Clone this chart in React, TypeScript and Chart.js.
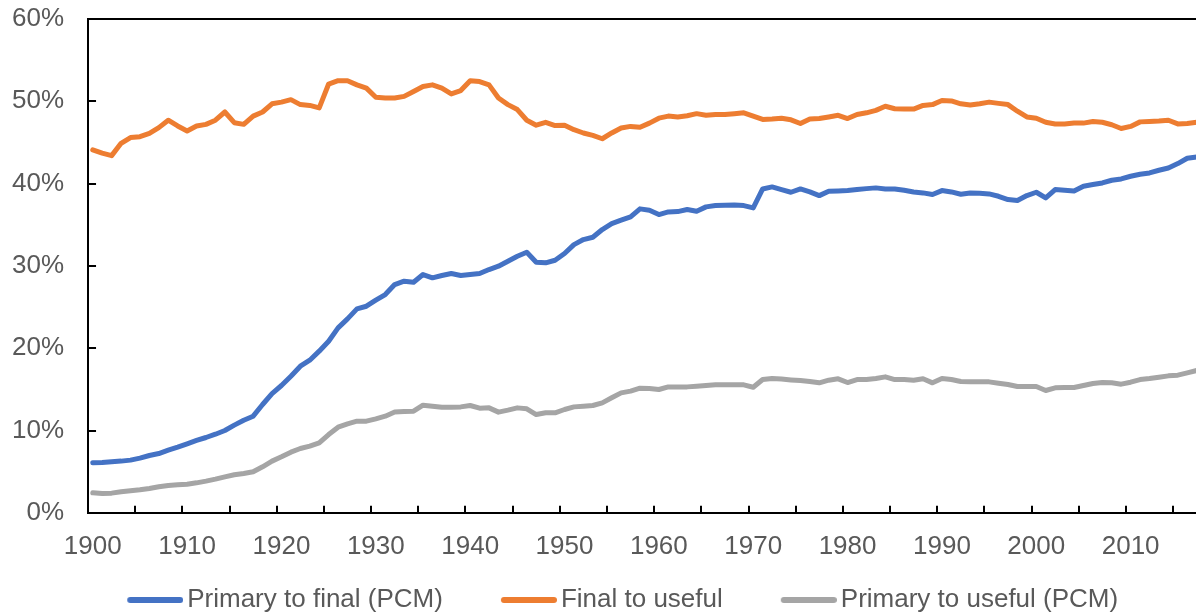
import { useEffect, useRef } from 'react';
import { Chart, registerables } from 'chart.js';

Chart.register(...registerables);

const years = [
  1900, 1901, 1902, 1903, 1904, 1905, 1906, 1907, 1908, 1909,
  1910, 1911, 1912, 1913, 1914, 1915, 1916, 1917, 1918, 1919,
  1920, 1921, 1922, 1923, 1924, 1925, 1926, 1927, 1928, 1929,
  1930, 1931, 1932, 1933, 1934, 1935, 1936, 1937, 1938, 1939,
  1940, 1941, 1942, 1943, 1944, 1945, 1946, 1947, 1948, 1949,
  1950, 1951, 1952, 1953, 1954, 1955, 1956, 1957, 1958, 1959,
  1960, 1961, 1962, 1963, 1964, 1965, 1966, 1967, 1968, 1969,
  1970, 1971, 1972, 1973, 1974, 1975, 1976, 1977, 1978, 1979,
  1980, 1981, 1982, 1983, 1984, 1985, 1986, 1987, 1988, 1989,
  1990, 1991, 1992, 1993, 1994, 1995, 1996, 1997, 1998, 1999,
  2000, 2001, 2002, 2003, 2004, 2005, 2006, 2007, 2008, 2009,
  2010, 2011, 2012, 2013, 2014, 2015, 2016, 2017,
];

const primaryToFinal = [
  6.07, 6.1, 6.2, 6.28, 6.4, 6.64, 6.96, 7.2, 7.61, 7.98,
  8.38, 8.79, 9.15, 9.55, 10.0, 10.65, 11.25, 11.74, 13.16, 14.49,
  15.47, 16.6, 17.81, 18.54, 19.64, 20.85, 22.47, 23.56, 24.78, 25.1,
  25.83, 26.52, 27.73, 28.14, 28.02, 28.95, 28.55, 28.83, 29.07, 28.83,
  28.95, 29.07, 29.56, 29.96, 30.57, 31.17, 31.66, 30.45, 30.37, 30.69,
  31.5, 32.59, 33.2, 33.48, 34.42, 35.14, 35.55, 35.95, 36.93, 36.76,
  36.24, 36.56, 36.6, 36.85, 36.64, 37.17, 37.33, 37.37, 37.41, 37.33,
  37.05, 39.35, 39.6, 39.27, 38.95, 39.35, 38.99, 38.54, 39.07, 39.11,
  39.15, 39.27, 39.39, 39.48, 39.35, 39.35, 39.19, 38.99, 38.87, 38.67,
  39.15, 38.99, 38.71, 38.87, 38.83, 38.75, 38.46, 38.06, 37.94, 38.55,
  38.95, 38.26, 39.27, 39.19, 39.11, 39.68, 39.88, 40.08, 40.41, 40.57,
  40.89, 41.14, 41.3, 41.62, 41.9, 42.43, 43.08, 43.24,
];

const finalToUseful = [
  44.1, 43.7, 43.4, 44.9, 45.6, 45.7, 46.1, 46.8, 47.7, 47.0,
  46.4, 47.0, 47.2, 47.7, 48.7, 47.4, 47.2, 48.2, 48.7, 49.7,
  49.9, 50.2, 49.6, 49.5, 49.2, 52.1, 52.5, 52.5, 52.0, 51.6,
  50.5, 50.4, 50.4, 50.6, 51.2, 51.8, 52.0, 51.6, 50.9, 51.3,
  52.5, 52.4, 52.0, 50.4, 49.6, 49.0, 47.7, 47.1, 47.45, 47.05,
  47.1, 46.55, 46.15, 45.85, 45.45, 46.15, 46.75, 46.95, 46.85, 47.35,
  47.95, 48.2, 48.1, 48.25, 48.5, 48.3, 48.4, 48.4, 48.5, 48.6,
  48.2, 47.8, 47.85, 47.95, 47.75, 47.3, 47.85, 47.9, 48.1, 48.3,
  47.9, 48.4, 48.6, 48.9, 49.4, 49.1, 49.05, 49.05, 49.5, 49.6,
  50.1, 50.05, 49.7, 49.55, 49.7, 49.9, 49.75, 49.6, 48.8, 48.1,
  47.95, 47.45, 47.25, 47.25, 47.35, 47.35, 47.55, 47.45, 47.15, 46.7,
  46.95, 47.5, 47.55, 47.6, 47.7, 47.25, 47.3, 47.45,
];

const primaryToUseful = [
  2.43, 2.35, 2.39, 2.55, 2.67, 2.79, 2.96, 3.16, 3.32, 3.4,
  3.48, 3.64, 3.85, 4.09, 4.37, 4.62, 4.78, 4.98, 5.59, 6.28,
  6.8, 7.37, 7.81, 8.1, 8.5, 9.51, 10.4, 10.81, 11.13, 11.13,
  11.42, 11.74, 12.25, 12.31, 12.35, 13.08, 12.96, 12.83, 12.83, 12.87,
  13.04, 12.71, 12.75, 12.23, 12.47, 12.75, 12.63, 11.94, 12.15, 12.15,
  12.55, 12.87, 12.96, 13.04, 13.36, 13.97, 14.57, 14.78, 15.14, 15.1,
  14.98, 15.3, 15.3, 15.3, 15.38, 15.47, 15.55, 15.55, 15.55, 15.55,
  15.26, 16.19, 16.32, 16.25, 16.15, 16.07, 15.95, 15.79, 16.11, 16.28,
  15.83, 16.19, 16.19, 16.32, 16.52, 16.19, 16.19, 16.11, 16.28, 15.79,
  16.32, 16.19, 15.95, 15.91, 15.91, 15.91, 15.75, 15.59, 15.34, 15.34,
  15.34, 14.86, 15.18, 15.22, 15.22, 15.47, 15.71, 15.83, 15.79, 15.63,
  15.87, 16.19, 16.32, 16.48, 16.64, 16.72, 17.0, 17.29,
];

const seriesNames = ['Primary to final (PCM)', 'Final to useful', 'Primary to useful (PCM)'];
const seriesValues = [primaryToFinal, finalToUseful, primaryToUseful];
const seriesColors = ['#4472C4', '#ED7D31', '#A5A5A5'];

const FONT = "'Liberation Sans', Arial, Helvetica, sans-serif";
const TEXT_COLOR = '#595959';
const CANVAS_W = 1210;
const CANVAS_H = 614;
const LEGEND_DX = -1;
const LEGEND_DY = 7;
const LEGEND_SYMBOL_SLOT = 105;

function legendLineImage(color: string) {
  const c = document.createElement('canvas');
  const w = LEGEND_SYMBOL_SLOT + 18;
  c.width = w;
  c.height = 8;
  const g = c.getContext('2d')!;
  g.strokeStyle = color;
  g.lineWidth = 6;
  g.lineCap = 'round';
  g.beginPath();
  g.moveTo(w - 56 + 3, 4);
  g.lineTo(w - 3, 4);
  g.stroke();
  return c;
}

const framePlugin = {
  id: 'frame',
  beforeDatasetsDraw(chart: any) {
    const { ctx, chartArea: a, scales } = chart;
    const x = scales.x;
    const y = scales.y;
    ctx.save();
    ctx.strokeStyle = '#000';
    ctx.lineWidth = 2;
    ctx.beginPath();
    ctx.moveTo(a.left - 1, a.top);
    ctx.lineTo(a.right, a.top);
    for (let v = x.min; v <= x.max + 1e-6; v += 5) {
      const px = Math.round(x.getPixelForValue(v));
      ctx.moveTo(px, a.bottom);
      ctx.lineTo(px, a.bottom - 7);
    }
    for (const t of y.ticks) {
      const py = Math.round(y.getPixelForValue(t.value));
      ctx.moveTo(a.left, py);
      ctx.lineTo(a.left + 8, py);
    }
    ctx.stroke();
    ctx.restore();
  },
};

const legendShiftPlugin = {
  id: 'legendShift',
  afterLayout(chart: any) {
    const l = chart.legend;
    if (!l) return;
    l.left += LEGEND_DX;
    l.right += LEGEND_DX;
    l.top += LEGEND_DY;
    l.bottom += LEGEND_DY;
  },
};

export default function App() {
  const ref = useRef<HTMLCanvasElement | null>(null);

  useEffect(() => {
    document.body.style.margin = '0';
    const canvas = ref.current;
    if (!canvas) return;
    const images = seriesColors.map((c) => legendLineImage(c));
    const chart = new Chart(canvas, {
      type: 'line',
      data: {
        datasets: seriesNames.map((name, i) => ({
          label: name,
          data: years.map((yr, j) => ({ x: yr, y: seriesValues[i][j] })),
          borderColor: seriesColors[i],
          backgroundColor: seriesColors[i],
          borderWidth: 5,
          pointRadius: 0,
          pointHoverRadius: 0,
          tension: 0,
          borderJoinStyle: 'round',
          borderCapStyle: 'round',
          fill: false,
        })),
      },
      options: {
        responsive: false,
        animation: false,
        devicePixelRatio: 1,
        layout: { padding: { left: -12, right: CANVAS_W - 1201.4, top: 19, bottom: -2 } },
        scales: {
          x: {
            type: 'linear',
            min: 1899.5,
            max: 2017.5,
            grid: { display: false, drawTicks: false },
            border: { display: true, color: '#000', width: 2 },
            afterFit: (s: any) => {
              s.paddingLeft = 0;
              s.paddingRight = 0;
            },
            ticks: {
              stepSize: 10,
              includeBounds: false,
              padding: 18,
              color: TEXT_COLOR,
              font: { family: FONT, size: 26 },
              maxRotation: 0,
              autoSkip: false,
              callback: (v: any) => String(v),
            },
          },
          y: {
            min: 0,
            max: 60,
            grid: { display: false, drawTicks: false },
            border: { display: true, color: '#000', width: 2 },
            afterFit: (s: any) => {
              s.paddingTop = 0;
              s.paddingBottom = 0;
            },
            ticks: {
              stepSize: 10,
              padding: 24,
              color: TEXT_COLOR,
              font: { family: FONT, size: 26 },
              callback: (v: any) => v + '%',
            },
          },
        },
        plugins: {
          tooltip: { enabled: false },
          legend: {
            position: 'bottom',
            labels: {
              color: TEXT_COLOR,
              font: { family: FONT, size: 26 },
              usePointStyle: true,
              pointStyleWidth: LEGEND_SYMBOL_SLOT,
              boxHeight: 26,
              padding: 0,
              generateLabels: (ch: any) => {
                const items = Chart.defaults.plugins.legend.labels.generateLabels(ch);
                return items.map((it: any) => ({ ...it, pointStyle: images[it.datasetIndex] }));
              },
            },
          },
        },
      },
      plugins: [framePlugin, legendShiftPlugin],
    } as any);
    return () => chart.destroy();
  }, []);

  return (
    <div style={{ width: 1196, height: 614, overflow: 'hidden', position: 'relative' }}>
      <canvas ref={ref} width={CANVAS_W} height={CANVAS_H} style={{ display: 'block' }} />
    </div>
  );
}
